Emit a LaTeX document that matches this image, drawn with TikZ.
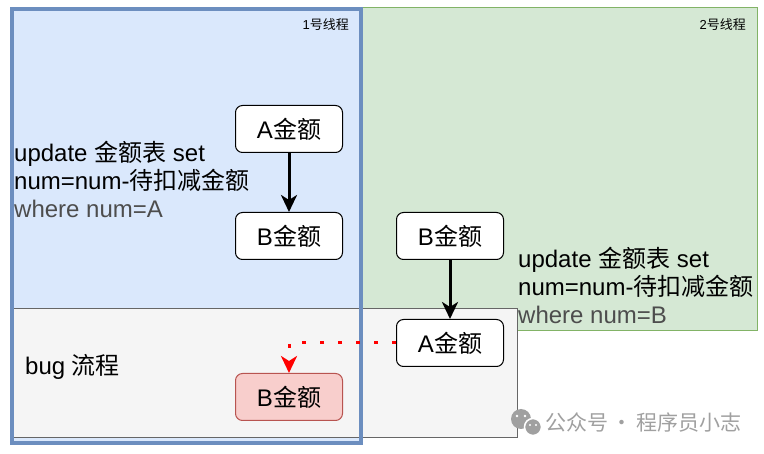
\documentclass[tikz,border=0pt]{standalone}
\usepackage{fontspec}
\setmainfont{Liberation Sans}
\newfontfamily\cjk{Noto Sans CJK SC}
\usetikzlibrary{arrows.meta}
\definecolor{blueF}{HTML}{DAE8FC}
\definecolor{blueB}{HTML}{6C8EBF}
\definecolor{greenF}{HTML}{D5E8D4}
\definecolor{greenB}{HTML}{82B366}
\definecolor{grayF}{HTML}{F5F5F5}
\definecolor{grayB}{HTML}{666666}
\definecolor{redF}{HTML}{F8CECC}
\definecolor{redB}{HTML}{B85450}
\definecolor{wtxt}{HTML}{4D4D4D}
\definecolor{wm}{HTML}{A0A0A0}
\begin{document}
\begin{tikzpicture}[x=1pt,y=-1pt,
  box/.style={draw=black, line width=1pt, rounded corners=7pt, fill=white,
    minimum width=107pt, minimum height=47pt, inner sep=0pt,
    font=\fontsize{24}{28}\selectfont},
  txt/.style={anchor=base west, inner sep=0pt, font=\fontsize{24}{28}\selectfont},
  small/.style={anchor=base east, inner sep=0pt, font=\fontsize{13}{15}\selectfont},
  arr/.style={line width=3pt, -{Stealth[length=17pt,width=16pt,inset=5pt]}},
  reddot/.style={red, line width=3pt, dash pattern=on 4pt off 14pt,
    -{Stealth[length=17pt,width=16pt,inset=5pt]}}
]
\useasboundingbox (0,0) rectangle (764,454);
\fill[white] (0,0) rectangle (764,454);

% containers
\fill[blueF] (12,9) rectangle (361,443);
\draw[greenB, fill=greenF, line width=1pt] (361,8) rectangle (757,331);
\draw[grayB, fill=grayF, line width=1pt] (10,309) rectangle (517,438);
\draw[blueB, line width=3.5pt] (12,9) rectangle (361,443);

% labels
\node[small] (l1) at (349,30) {1{\cjk 号线程}};
\node[small] (l2) at (746,30) {2{\cjk 号线程}};

\node[txt] (t1a) at (14,162) {update {\cjk 金额表} set};
\node[txt] (t1b) at (14,190) {num=num-{\cjk 待扣减金额}};
\node[txt, text=wtxt] (t1c) at (14,218) {where num=A};

\node[txt] (t2a) at (518,268) {update {\cjk 金额表} set};
\node[txt] (t2b) at (518,296) {num=num-{\cjk 待扣减金额}};
\node[txt, text=wtxt] (t2c) at (518,324) {where num=B};

\node[txt] (bug) at (25,375) {bug {\cjk 流程}};

% boxes
\node[box] (a1) at (289,129) {A{\cjk 金额}};
\node[box] (b1) at (289,236) {B{\cjk 金额}};
\node[box] (b2) at (450,236) {B{\cjk 金额}};
\node[box] (a2) at (450,343) {A{\cjk 金额}};
\node[box, fill=redF, draw=redB] (b3) at (289,397) {B{\cjk 金额}};

% connectors
\draw[arr] (a1) -- (b1);
\draw[arr] (b2) -- (a2);
\draw[reddot] (a2.west) -| (b3.north);

% watermark
\fill[wm] (521,419) circle (10pt);
\fill[wm, draw=white, line width=1.5pt] (533,427) circle (8.5pt);
\fill[white] (517,416) circle (1.3pt) (525,416) circle (1.3pt);
\fill[white] (530,425) circle (1.1pt) (536,425) circle (1.1pt);
\node[anchor=base west, inner sep=0pt, text=wm, font=\cjk\fontsize{21}{24}\selectfont] (wmt) at (545,431) {公众号\,·\,程序员小志};
\end{tikzpicture}
\end{document}
